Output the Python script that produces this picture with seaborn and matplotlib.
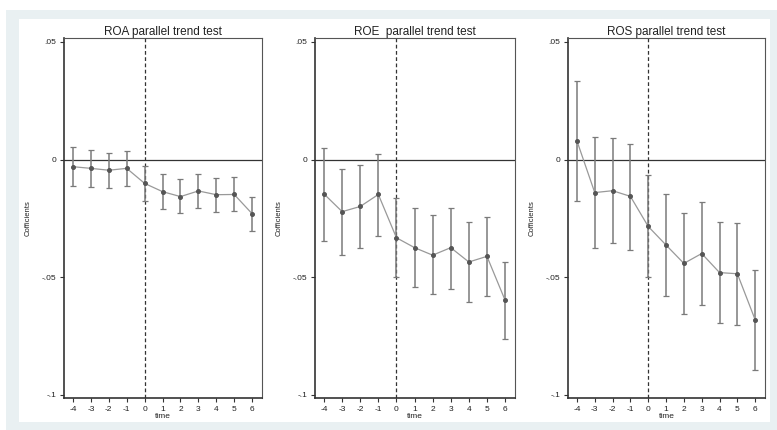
import numpy as np
import pandas as pd
import matplotlib
matplotlib.use("Agg")
import matplotlib.pyplot as plt
from matplotlib.patches import Rectangle
import seaborn as sns

# ==========================================
# Data
# ==========================================

time = [-4, -3, -2, -1, 0, 1, 2, 3, 4, 5, 6]

roa_coef = [-0.0030, -0.0037, -0.0045, -0.0037, -0.0101, -0.0136, -0.0157, -0.0133, -0.0149, -0.0148, -0.0230]
roa_upper = [0.0055, 0.0043, 0.0028, 0.0037, -0.0028, -0.0061, -0.0084, -0.0060, -0.0078, -0.0074, -0.0159]
roa_lower = [-0.0114, -0.0118, -0.0120, -0.0114, -0.0176, -0.0209, -0.0228, -0.0207, -0.0221, -0.0218, -0.0302]

roe_coef = [-0.0146, -0.0221, -0.0199, -0.0148, -0.0332, -0.0374, -0.0406, -0.0374, -0.0435, -0.0411, -0.0597]
roe_upper = [0.0051, -0.0040, -0.0023, 0.0026, -0.0163, -0.0206, -0.0234, -0.0206, -0.0265, -0.0243, -0.0435]
roe_lower = [-0.0345, -0.0406, -0.0376, -0.0325, -0.0498, -0.0540, -0.0571, -0.0548, -0.0606, -0.0580, -0.0763]

ros_coef = [0.0080, -0.0140, -0.0132, -0.0156, -0.0284, -0.0363, -0.0441, -0.0399, -0.0480, -0.0485, -0.0681]
ros_upper = [0.0333, 0.0097, 0.0094, 0.0067, -0.0065, -0.0145, -0.0226, -0.0180, -0.0264, -0.0269, -0.0470]
ros_lower = [-0.0174, -0.0376, -0.0354, -0.0382, -0.0498, -0.0579, -0.0657, -0.0618, -0.0694, -0.0702, -0.0892]

titles = ["ROA parallel trend test", "ROE  parallel trend test", "ROS parallel trend test"]
yticks = [0.05, 0, -0.05, -0.1]
ytick_labels = [".05", "0", "-.05", "-.1"]

panels = [
    (roa_coef, roa_upper, roa_lower),
    (roe_coef, roe_upper, roe_lower),
    (ros_coef, ros_upper, ros_lower),
]

# ==========================================
# Figure
# ==========================================

sns.set_theme(style="white")
plt.rcParams["font.family"] = ["Liberation Sans", "DejaVu Sans"]

W, H = 777, 430
fig = plt.figure(figsize=(W / 100, H / 100), dpi=100)
fig.patch.set_facecolor("white")

# Stata-like background frame
fig.patches.append(Rectangle((6 / W, 0), 1 - 6 / W, 1 - 10 / H,
                             transform=fig.transFigure, facecolor="#e9f0f2",
                             edgecolor="none", zorder=-2))
fig.patches.append(Rectangle((19 / W, 8 / H), (770 - 19) / W, (422 - 19) / H,
                             transform=fig.transFigure, facecolor="white",
                             edgecolor="none", zorder=-1))

# axes boxes in pixel coords (left, right)
boxes = [(64, 262), (315, 515), (568, 765)]
top_px, bottom_px = 38, 398

for (coef, upper, lower), title, (x0, x1) in zip(panels, titles, boxes):
    ax = fig.add_axes([x0 / W, 1 - bottom_px / H, (x1 - x0) / W, (bottom_px - top_px) / H])
    ax.set_zorder(1)
    ax.set_facecolor("white")

    df = pd.DataFrame({"time": time, "coef": coef, "upper": upper, "lower": lower})

    ax.axhline(0, color="#333333", lw=0.9, zorder=1)
    ax.axvline(0, color="#333333", lw=0.9, ls=(0, (3, 2)), zorder=1)

    ax.errorbar(df["time"], df["coef"],
                yerr=[df["coef"] - df["lower"], df["upper"] - df["coef"]],
                fmt="none", ecolor="#7a7a7a", elinewidth=1.1, capsize=2.5,
                capthick=0.9, zorder=2)

    sns.lineplot(data=df, x="time", y="coef", ax=ax, color="#999999", lw=0.9,
                 marker="o", markersize=2.8, markerfacecolor="#555555",
                 markeredgecolor="#555555", zorder=3)

    ax.set_xlim(-4.5, 6.55)
    ax.set_ylim(-0.1013, 0.0517)
    ax.set_xticks(time)
    ax.set_xticklabels([str(t) for t in time])
    ax.set_yticks(yticks)
    ax.set_yticklabels(ytick_labels)

    ax.tick_params(axis="both", which="both", length=3, width=0.8, labelsize=6,
                   color="#333333", labelcolor="#222222", pad=2.5, left=True, bottom=True)
    ax.set_xlabel("time", fontsize=6, labelpad=0, color="#222222")
    ax.set_ylabel("Cofficients", fontsize=5.5, color="#222222")
    ax.yaxis.set_label_coords(-32 / (x1 - x0), 0.5)
    ax.set_title(title, fontsize=8.5, pad=2, color="#222222")

    for side in ["top", "right"]:
        ax.spines[side].set_color("#555555")
        ax.spines[side].set_linewidth(0.8)
    for side in ["left", "bottom"]:
        ax.spines[side].set_color("#333333")
        ax.spines[side].set_linewidth(1.2)

plt.savefig("out.png", dpi=100)
plt.close()
